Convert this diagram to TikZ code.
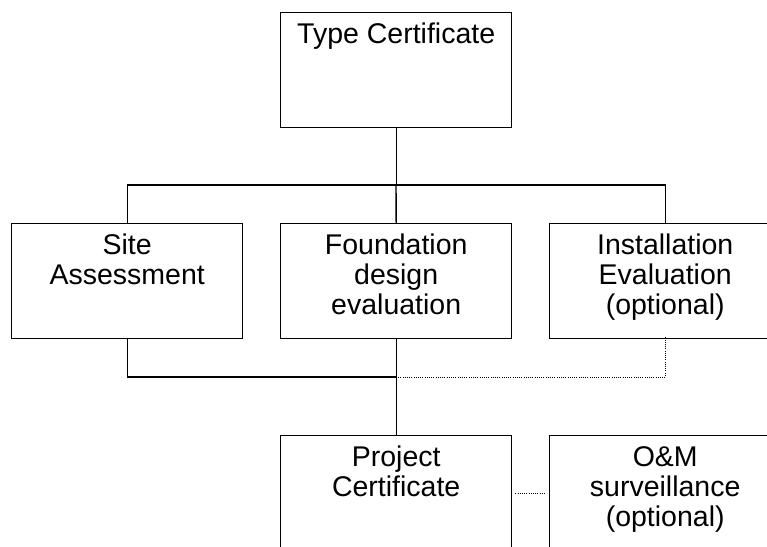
\documentclass[tikz,border=0pt]{standalone}
\usepackage{fontspec}
\setmainfont{Liberation Sans}
\begin{document}
\begin{tikzpicture}[x=1pt,y=-1pt,
  box/.style={draw,line width=1.4pt,minimum width=231pt,minimum height=115pt,inner sep=0pt,anchor=north west},
  lbl/.style={anchor=north,inner sep=0pt,align=center,font=\fontsize{28.5}{30}\selectfont},
  wire/.style={line width=1.4pt},
  dotwire/.style={line width=0.8pt,dash pattern=on 0.8pt off 1.4pt}]
\useasboundingbox (0,0) rectangle (767,546);
\clip (0,0) rectangle (767,546);
\node[box] (tc) at (280,12) {};
\node[box] (sa) at (11,223) {};
\node[box] (fd) at (280,223) {};
\node[box] (ie) at (549,223) {};
\node[box] (pc) at (280,435) {};
\node[box] (om) at (549,435) {};
\node[lbl] (tct) at ([yshift=-11pt]tc.north) {Type Certificate};
\node[lbl] (sat) at ([yshift=-11pt]sa.north) {Site\\Assessment};
\node[lbl] (fdt) at ([yshift=-11pt]fd.north) {Foundation\\design\\evaluation};
\node[lbl] (iet) at ([yshift=-11pt]ie.north) {Installation\\Evaluation\\(optional)};
\node[lbl] (pct) at ([yshift=-11pt]pc.north) {Project\\Certificate};
\node[lbl] (omt) at ([yshift=-11pt]om.north) {O\&M\\surveillance\\(optional)};
\coordinate (bus) at (396,185);
\coordinate (low) at (396,377);
\draw[wire] (tc.south) -- (tc.south |- bus);
\draw[wire] (sa.north) |- (bus) -| (ie.north);
\draw[wire] (bus) -- (fd.north);
\draw[wire] (sa.south) |- (low);
\draw[wire] (fd.south) -- (pc.north);
\draw[dotwire] (low) -| ([yshift=3pt]ie.south);
\draw[dotwire] (pc.east) ++(3pt,0) -- ([xshift=-3pt]om.west);
\end{tikzpicture}
\end{document}
